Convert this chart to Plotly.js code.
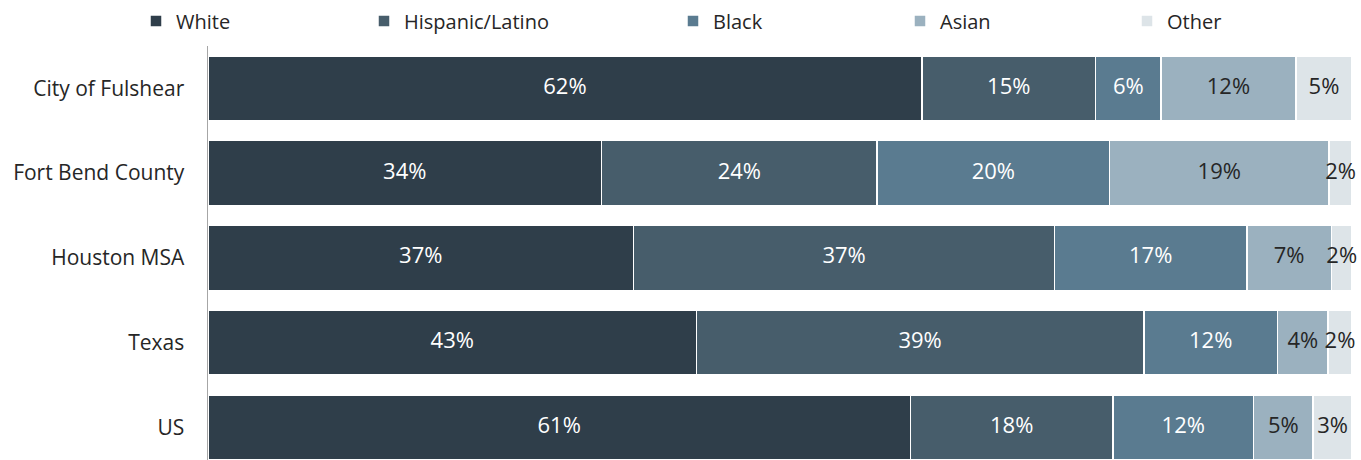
<!DOCTYPE html>
<html>
<head>
<meta charset="utf-8">
<script src="https://cdn.plot.ly/plotly-3.0.1.min.js"></script>
<style>html,body{margin:0;padding:0;background:#fff;}#chart{width:1361px;height:460px;}</style>
</head>
<body>
<div id="chart"></div>
<script>
const categories = ["City of Fulshear", "Fort Bend County", "Houston MSA", "Texas", "US"];
const seriesNames = ["White", "Hispanic/Latino", "Black", "Asian", "Other"];
const white    = [62.4, 34.4, 37.2, 42.7, 61.4];
const hispanic = [15.2, 24.1, 36.8, 39.1, 17.7];
const black    = [5.7, 20.3, 16.8, 11.7, 12.3];
const asian    = [11.8, 19.2, 7.4, 4.4, 5.2];
const other    = [4.9, 2.0, 1.8, 2.1, 3.4];

const seriesValues = [white, hispanic, black, asian, other];
const colors = ["#2f3e4a", "#475d6b", "#5a7b90", "#9bb1bf", "#dde4e8"];
const textColors = ["#ffffff", "#ffffff", "#ffffff", "#262626", "#262626"];
const legendX = [152, 380, 689, 916, 1143];

const FONT = "'Open Sans', Lato, sans-serif";
const traces = seriesNames.map((name, i) => ({
  type: "bar",
  orientation: "h",
  name: name,
  x: seriesValues[i],
  y: categories,
  marker: {color: colors[i], line: {color: "#ffffff", width: 1.5}},
  textposition: "none",
  hoverinfo: "skip",
  legend: i === 0 ? "legend" : "legend" + (i + 1)
}));

// value labels centred in each segment (positions derived from the data)
const starts = categories.map(() => 0);
seriesValues.forEach((vals, i) => {
  const mids = vals.map((v, j) => {
    const m = starts[j] + v / 2;
    starts[j] += v;
    return m;
  });
  traces.push({
    type: "scatter",
    mode: "text",
    x: mids,
    y: categories,
    text: vals.map(v => Math.round(v) + "%"),
    textposition: "middle center",
    textfont: {family: FONT, size: 22, color: textColors[i]},
    cliponaxis: false,
    showlegend: false,
    hoverinfo: "skip"
  });
});

const layout = {
  width: 1361, height: 460,
  margin: {l: 208, r: 9, t: 46, b: 0},
  paper_bgcolor: "#ffffff", plot_bgcolor: "#ffffff",
  font: {family: FONT, size: 20, color: "#262626"},
  barmode: "stack",
  bargap: 0.233,
  xaxis: {range: [0, 100], visible: false, fixedrange: true},
  yaxis: {
    type: "category",
    range: [4.385, -0.5],
    showline: true, linecolor: "#a6a6a6", linewidth: 1.5,
    ticks: "", showgrid: false, zeroline: false,
    ticklabelstandoff: 18,
    tickfont: {family: FONT, size: 21, color: "#262626"}
  },
  showlegend: true
};
legendX.forEach((px, i) => {
  const key = i === 0 ? "legend" : "legend" + (i + 1);
  layout[key] = {
    xref: "container", yref: "container",
    x: (px - 16) / 1361, y: 1 - 21 / 460,
    xanchor: "left", yanchor: "middle",
    orientation: "h", bgcolor: "rgba(0,0,0,0)",
    itemwidth: 30,
    font: {family: FONT, size: 20, color: "#262626"}
  };
});

Plotly.newPlot("chart", traces, layout, {displayModeBar: false, staticPlot: true});
</script>
</body>
</html>
